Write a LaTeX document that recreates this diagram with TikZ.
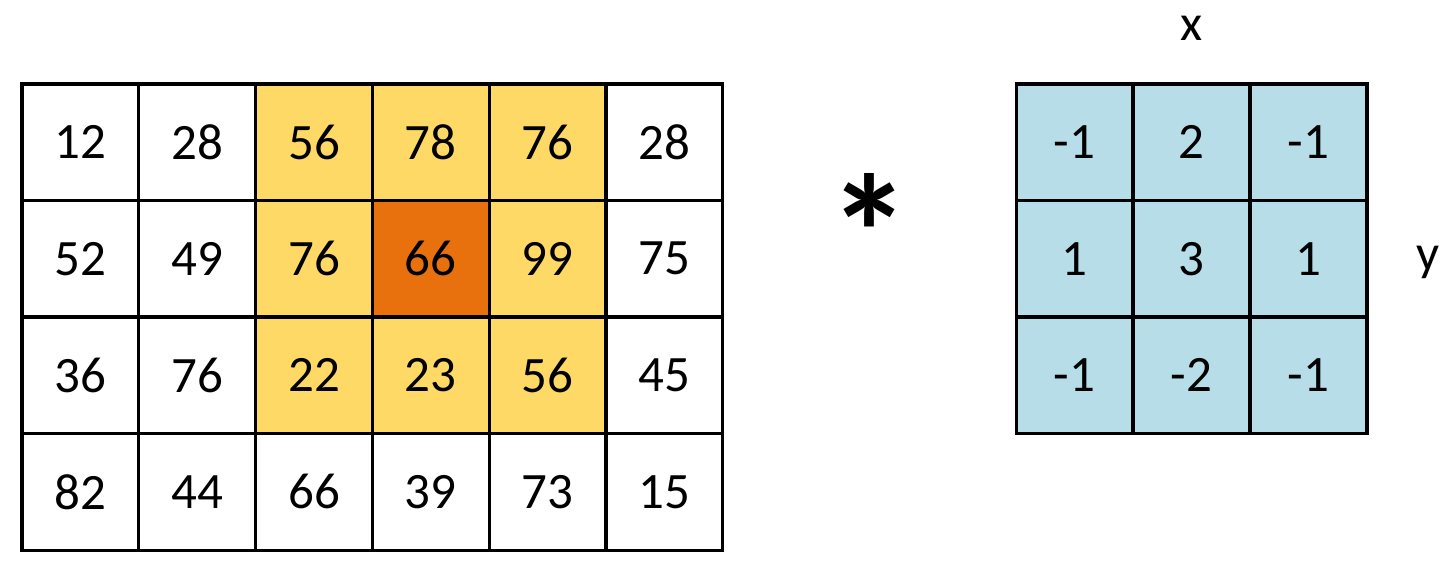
\documentclass[tikz,border=0pt]{standalone}
\usepackage{fontspec}
\setmainfont{Carlito}
\definecolor{cellyellow}{HTML}{FFD966}
\definecolor{cellorange}{HTML}{E8710E}
\definecolor{cellblue}{HTML}{B7DEE8}
\tikzset{
  cell/.style={rectangle, draw, line width=3.2pt, minimum size=116.8pt, inner sep=0pt,
    font=\fontsize{51}{60}\selectfont},
  axislabel/.style={font=\fontsize{51}{60}\selectfont, inner sep=0pt}
}
\begin{document}
\begin{tikzpicture}[x=1pt, y=-1pt]
    \useasboundingbox (0,0) rectangle (1453,565);

    % --- Image: 6x4 pixel values, 3x3 window highlighted ---
    \node[cell] (I11) at (80.4,142.3) {12};
    \node[cell] (I12) at (197.2,142.3) {28};
    \node[cell, fill=cellyellow] (I13) at (314,142.3) {56};
    \node[cell, fill=cellyellow] (I14) at (430.8,142.3) {78};
    \node[cell, fill=cellyellow] (I15) at (547.6,142.3) {76};
    \node[cell] (I16) at (664.4,142.3) {28};

    \node[cell] (I21) at (80.4,258.8) {52};
    \node[cell] (I22) at (197.2,258.8) {49};
    \node[cell, fill=cellyellow] (I23) at (314,258.8) {76};
    \node[cell, fill=cellorange] (I24) at (430.8,258.8) {66};
    \node[cell, fill=cellyellow] (I25) at (547.6,258.8) {99};
    \node[cell] (I26) at (664.4,258.8) {75};

    \node[cell] (I31) at (80.4,375.3) {36};
    \node[cell] (I32) at (197.2,375.3) {76};
    \node[cell, fill=cellyellow] (I33) at (314,375.3) {22};
    \node[cell, fill=cellyellow] (I34) at (430.8,375.3) {23};
    \node[cell, fill=cellyellow] (I35) at (547.6,375.3) {56};
    \node[cell] (I36) at (664.4,375.3) {45};

    \node[cell] (I41) at (80.4,491.8) {82};
    \node[cell] (I42) at (197.2,491.8) {44};
    \node[cell] (I43) at (314,491.8) {66};
    \node[cell] (I44) at (430.8,491.8) {39};
    \node[cell] (I45) at (547.6,491.8) {73};
    \node[cell] (I46) at (664.4,491.8) {15};

    % --- Convolution operator ---
    \node[inner sep=0pt, font=\fontsize{165}{165}\bfseries] (conv) at (870,232) {*};

    % --- Kernel: 3x3 filter ---
    \node[cell, fill=cellblue] (K11) at (1074.5,142.3) {-1};
    \node[cell, fill=cellblue] (K12) at (1191.5,142.3) {2};
    \node[cell, fill=cellblue] (K13) at (1308.5,142.3) {-1};

    \node[cell, fill=cellblue] (K21) at (1074.5,258.8) {1};
    \node[cell, fill=cellblue] (K22) at (1191.5,258.8) {3};
    \node[cell, fill=cellblue] (K23) at (1308.5,258.8) {1};

    \node[cell, fill=cellblue] (K31) at (1074.5,375.3) {-1};
    \node[cell, fill=cellblue] (K32) at (1191.5,375.3) {-2};
    \node[cell, fill=cellblue] (K33) at (1308.5,375.3) {-1};

    % --- Axis labels ---
    \node[axislabel] (xlab) at (1192,28) {x};
    \node[axislabel] (ylab) at (1428,262) {y};

  \end{tikzpicture}
\end{document}
